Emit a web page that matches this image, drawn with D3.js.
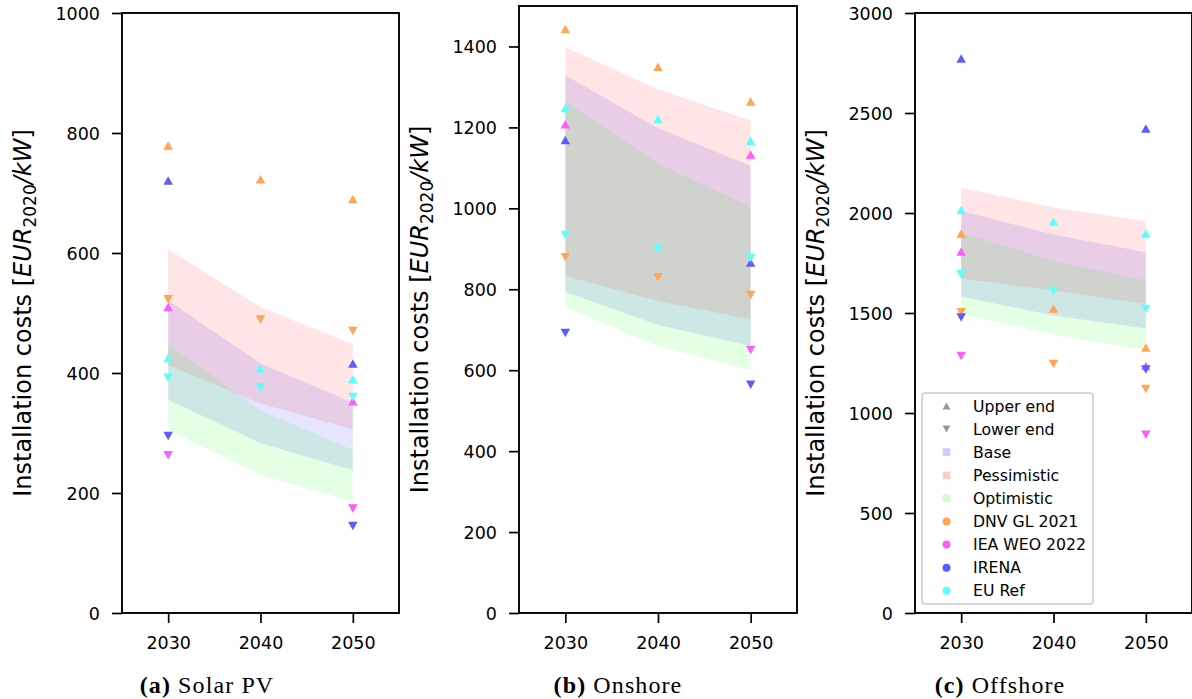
<!DOCTYPE html>
<html>
<head>
<meta charset="utf-8">
<script src="https://cdn.jsdelivr.net/npm/d3@7"></script>
<style>
  html, body { margin: 0; padding: 0; background: #fff; }
  svg { display: block; }
  .tick text { font-family: "DejaVu Sans", sans-serif; font-size: 17.5px; fill: #000; }
</style>
</head>
<body>
<svg id="chart" width="1192" height="699"></svg>
<script>
// ---------------- DATA ----------------
const years = [2030, 2040, 2050];
const yearTicks = [2030, 2040, 2050];

// Solar PV scenario bands
const solarBaseLow  = [355, 283, 238];
const solarBaseHigh = [521, 416, 351];
const solarPessLow  = [413, 349, 306];
const solarPessHigh = [606, 510, 448];
const solarOptLow   = [305, 230, 186];
const solarOptHigh  = [448, 338, 272];
// Solar PV literature (upper / lower ends)
const solarDnvUp   = [779, 723, 690];
const solarDnvLow  = [523, 489, 470];
const solarIeaUp   = [510, null, 353];
const solarIeaLow  = [263, null, 174];
const solarIrenaUp = [721, null, 416];
const solarIrenaLow= [295, null, 145];
const solarEuUp    = [425, 408, 390];
const solarEuLow   = [392, 376, 360];
const solarTicks   = [0, 200, 400, 600, 800, 1000];

// Onshore scenario bands
const onBaseLow  = [793, 712, 660];
const onBaseHigh = [1329, 1198, 1105];
const onPessLow  = [833, 771, 726];
const onPessHigh = [1398, 1294, 1217];
const onOptLow   = [756, 660, 600];
const onOptHigh  = [1265, 1110, 1004];
// Onshore literature
const onDnvUp   = [1443, 1350, 1264];
const onDnvLow  = [879, 830, 786];
const onIeaUp   = [1208, null, 1133];
const onIeaLow  = [null, null, 650];
const onIrenaUp = [1169, null, 866];
const onIrenaLow= [692, null, 564];
const onEuUp    = [1248, 1221, 1167];
const onEuLow   = [934, 901, 877];
const onTicks   = [0, 200, 400, 600, 800, 1000, 1200, 1400];

// Offshore scenario bands
const offBaseLow  = [1581, 1488, 1422];
const offBaseHigh = [2010, 1892, 1804];
const offPessLow  = [1673, 1612, 1545];
const offPessHigh = [2126, 2028, 1959];
const offOptLow   = [1498, 1392, 1314];
const offOptHigh  = [1902, 1759, 1663];
// Offshore literature
const offDnvUp   = [1898, 1522, 1328];
const offDnvLow  = [1504, 1245, 1120];
const offIeaUp   = [1808, null, 1235];
const offIeaLow  = [1285, null, 891];
const offIrenaUp = [2773, null, 2422];
const offIrenaLow= [1477, null, 1218];
const offEuUp    = [2016, 1957, 1898];
const offEuLow   = [1694, 1610, 1520];
const offTicks   = [0, 500, 1000, 1500, 2000, 2500, 3000];

const sourceNames = ["DNV GL 2021", "IEA WEO 2022", "IRENA", "EU Ref"];
const scenarioNames = ["Base", "Pessimistic", "Optimistic"];
const captions = [["(a)", "Solar PV"], ["(b)", "Onshore"], ["(c)", "Offshore"]];

// ---------------- STYLE ----------------
const sourceColors = ["#ffa553", "#ff5cff", "#5c5cff", "#5cffff"];
const bandColors = { Base: "#0000ff", Pessimistic: "#ff0000", Optimistic: "#00ff00" };
const legendSquare = { Base: "#ccccff", Pessimistic: "#ffcccc", Optimistic: "#ccffcc" };

const panels = [
  { left: 122, right: 399, top: 13, bottom: 613, ymax: 1000, ticks: solarTicks, capX: 207,
    bands: { Base: [solarBaseLow, solarBaseHigh], Pessimistic: [solarPessLow, solarPessHigh], Optimistic: [solarOptLow, solarOptHigh] },
    sources: [[solarDnvUp, solarDnvLow], [solarIeaUp, solarIeaLow], [solarIrenaUp, solarIrenaLow], [solarEuUp, solarEuLow]] },
  { left: 519, right: 797, top: 6, bottom: 613, ymax: 1500, ticks: onTicks, capX: 618,
    bands: { Base: [onBaseLow, onBaseHigh], Pessimistic: [onPessLow, onPessHigh], Optimistic: [onOptLow, onOptHigh] },
    sources: [[onDnvUp, onDnvLow], [onIeaUp, onIeaLow], [onIrenaUp, onIrenaLow], [onEuUp, onEuLow]] },
  { left: 915, right: 1192, top: 13, bottom: 613, ymax: 3000, ticks: offTicks, capX: 1000,
    bands: { Base: [offBaseLow, offBaseHigh], Pessimistic: [offPessLow, offPessHigh], Optimistic: [offOptLow, offOptHigh] },
    sources: [[offDnvUp, offDnvLow], [offIeaUp, offIeaLow], [offIrenaUp, offIrenaLow], [offEuUp, offEuLow]] }
];

const svg = d3.select("#chart");

function triPath(up, w, h) {
  return up
    ? `M0,${-h/2}L${w/2},${h/2}L${-w/2},${h/2}Z`
    : `M0,${h/2}L${w/2},${-h/2}L${-w/2},${-h/2}Z`;
}

panels.forEach((p, pi) => {
  const x = d3.scaleLinear().domain([2025, 2055]).range([p.left, p.right]);
  const y = d3.scaleLinear().domain([0, p.ymax]).range([p.bottom, p.top]);
  const g = svg.append("g");

  // bands
  scenarioNames.forEach(name => {
    const [lo, hi] = p.bands[name];
    const pts = years.map((yr, i) => ({ yr, lo: lo[i], hi: hi[i] }));
    const area = d3.area().x(d => x(d.yr)).y0(d => y(d.lo)).y1(d => y(d.hi));
    g.append("path").datum(pts).attr("d", area)
      .attr("fill", bandColors[name]).attr("fill-opacity", 0.1).attr("stroke", "none");
  });

  // markers
  p.sources.forEach((pair, si) => {
    [true, false].forEach((up, k) => {
      const vals = pair[k];
      const pts = years.map((yr, i) => ({ yr, v: vals[i] })).filter(d => d.v != null);
      g.selectAll(null).data(pts).enter().append("path")
        .attr("d", triPath(up, 9.5, 8.5))
        .attr("transform", d => `translate(${x(d.yr)},${y(d.v)})`)
        .attr("fill", sourceColors[si]);
    });
  });

  // axes
  const ax = g.append("g").attr("transform", `translate(0,${p.bottom})`)
    .call(d3.axisBottom(x).tickValues(yearTicks).tickFormat(d3.format("d")).tickSize(10).tickPadding(14));
  const ay = g.append("g").attr("transform", `translate(${p.left},0)`)
    .call(d3.axisLeft(y).tickValues(p.ticks).tickFormat(d3.format("d")).tickSize(10).tickPadding(12));
  [ax, ay].forEach(a => {
    a.select(".domain").remove();
    a.selectAll(".tick line").attr("stroke", "#000").attr("stroke-width", 1.7);
  });
  ay.selectAll(".tick text").attr("dy", "0.36em");

  // frame
  g.append("rect").attr("x", p.left).attr("y", p.top)
    .attr("width", p.right - p.left).attr("height", p.bottom - p.top)
    .attr("fill", "none").attr("stroke", "#000").attr("stroke-width", 1.9);

  // y label
  const cy = (p.top + p.bottom) / 2;
  const lab = g.append("text")
    .attr("transform", `translate(${p.left - 91},${cy}) rotate(-90)`)
    .attr("text-anchor", "middle")
    .attr("font-family", "DejaVu Sans, sans-serif").attr("font-size", 24).attr("fill", "#000");
  lab.append("tspan").text("Installation costs [");
  lab.append("tspan").attr("font-style", "italic").text("EUR");
  lab.append("tspan").attr("font-size", 17).attr("dy", 5).text("2020");
  lab.append("tspan").attr("dy", -5).attr("font-style", "italic").text("/kW");
  lab.append("tspan").text("]");

  // caption
  const cap = svg.append("text").attr("x", p.capX).attr("y", 693)
    .attr("text-anchor", "middle").attr("letter-spacing", 1.1)
    .attr("font-family", "Liberation Serif, serif").attr("font-size", 24).attr("fill", "#000");
  cap.append("tspan").attr("font-weight", "bold").text(captions[pi][0]);
  cap.append("tspan").text(" " + captions[pi][1]);
});

// legend (in offshore panel)
const lg = svg.append("g");
lg.append("rect").attr("x", 922).attr("y", 393).attr("width", 171).attr("height", 211)
  .attr("rx", 3).attr("fill", "#fff").attr("fill-opacity", 0.8)
  .attr("stroke", "#cccccc").attr("stroke-width", 1.5);
const legendItems = [
  { label: "Upper end", type: "up", color: "#999999" },
  { label: "Lower end", type: "down", color: "#999999" },
  ...scenarioNames.map(n => ({ label: n, type: "sq", color: legendSquare[n] })),
  ...sourceNames.map((n, i) => ({ label: n, type: "circ", color: sourceColors[i] }))
];
legendItems.forEach((it, i) => {
  const yy = 406 + i * 23.1;
  const mx = 946.5;
  if (it.type === "up" || it.type === "down") {
    lg.append("path").attr("d", triPath(it.type === "up", 8, 7))
      .attr("transform", `translate(${mx},${yy})`).attr("fill", it.color);
  } else if (it.type === "sq") {
    lg.append("rect").attr("x", mx - 3.8).attr("y", yy - 3.8).attr("width", 7.6).attr("height", 7.6)
      .attr("fill", it.color);
  } else {
    lg.append("circle").attr("cx", mx).attr("cy", yy).attr("r", 4).attr("fill", it.color);
  }
  lg.append("text").attr("x", 973).attr("y", yy).attr("dy", "0.36em")
    .attr("font-family", "DejaVu Sans, sans-serif").attr("font-size", 15.7).attr("fill", "#000")
    .text(it.label);
});
</script>
</body>
</html>
